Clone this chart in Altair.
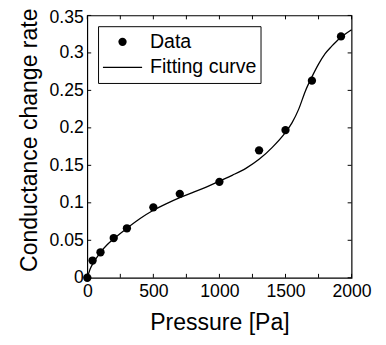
import altair as alt
import pandas as pd

# measured data
pressure = [0, 40, 100, 200, 300, 500, 700, 1000, 1300, 1500, 1700, 1920]
rate = [0.0, 0.023, 0.034, 0.053, 0.066, 0.094, 0.112, 0.128, 0.170, 0.197, 0.263, 0.322]

# fitting curve
fit_p = [0, 25, 50, 100, 150, 200, 300, 400, 500, 600, 700, 800, 900, 1000, 1100, 1200,
         1300, 1400, 1500, 1550, 1600, 1650, 1700, 1750, 1800, 1850, 1900, 1950, 2000]
fit_r = [0.0, 0.013, 0.021, 0.034, 0.044, 0.052, 0.066, 0.079, 0.090, 0.099, 0.107, 0.114,
         0.121, 0.129, 0.137, 0.146, 0.158, 0.174, 0.194, 0.207, 0.225, 0.249, 0.268, 0.285,
         0.299, 0.309, 0.318, 0.325, 0.331]

x_ticks = [0, 250, 500, 750, 1000, 1250, 1500, 1750, 2000]
x_labels = [0, 500, 1000, 1500, 2000]
y_ticks = [0, 0.05, 0.1, 0.15, 0.2, 0.25, 0.3, 0.35]

series_names = ["Data", "Fitting curve"]

FONT = "Liberation Sans"
W, H = 270, 268
TICK = 4
LINE_SYMBOL = "M-1,-0.033H1V0.033H-1Z"  # thin bar = line sample in legend

pts = pd.DataFrame({"p": pressure, "r": rate, "series": "Data"})
fit = pd.DataFrame({"p": fit_p, "r": fit_r})
xt = pd.DataFrame({"p": x_ticks})
yt = pd.DataFrame({"r": y_ticks})

xscale = alt.Scale(domain=[0, 2000], nice=False)
yscale = alt.Scale(domain=[0, 0.35], nice=False)

xaxis = alt.Axis(values=x_labels, format="d", ticks=False, grid=False,
                 domain=False, labelFlush=False, labelOverlap=False, labelPadding=5,
                 labelFontSize=18, labelFont=FONT, labelColor="black",
                 titleFontSize=23.5, titleFont=FONT, titleFontWeight="normal",
                 titleColor="black", titlePadding=11)
yaxis = alt.Axis(values=y_ticks, format=".2~f", ticks=False, grid=False, domain=False,
                 labelFlush=False, labelOverlap=False, labelPadding=4,
                 labelOffset=alt.condition("datum.value >= 0.34", alt.value(2), alt.value(0)),
                 labelFontSize=18, labelFont=FONT, labelColor="black",
                 titleFontSize=23.5, titleFont=FONT, titleFontWeight="normal",
                 titleColor="black", titlePadding=8, titleY=127)

X = alt.X("p:Q", scale=xscale, axis=xaxis, title="Pressure [Pa]")
Y = alt.Y("r:Q", scale=yscale, axis=yaxis, title="Conductance change rate")

line = alt.Chart(fit).mark_line(color="black", strokeWidth=1.3, interpolate="monotone").encode(
    x=X, y=Y)

legend = alt.Legend(title=None, orient="none", legendX=11, legendY=11,
                    strokeColor="black", fillColor="white", padding=4,
                    labelFontSize=20, labelFont=FONT, labelColor="black",
                    labelOffset=7, symbolFillColor="black",
                    clipHeight=24, rowPadding=2)

points = alt.Chart(pts).mark_point(filled=True, color="black", opacity=1).encode(
    x=X,
    y=Y,
    shape=alt.Shape("series:N", scale=alt.Scale(domain=series_names,
                                                range=["circle", LINE_SYMBOL]),
                    legend=legend),
    size=alt.Size("series:N", scale=alt.Scale(domain=series_names, range=[72, 1600]),
                  legend=legend),
)

bottom_ticks = alt.Chart(xt).mark_rule(color="black", strokeWidth=1).encode(
    x=X, y=alt.value(H), y2=alt.value(H - TICK))
top_ticks = alt.Chart(xt).mark_rule(color="black", strokeWidth=1).encode(
    x=X, y=alt.value(0), y2=alt.value(TICK))
left_ticks = alt.Chart(yt).mark_rule(color="black", strokeWidth=1).encode(
    y=Y, x=alt.value(0), x2=alt.value(TICK))
right_ticks = alt.Chart(yt).mark_rule(color="black", strokeWidth=1).encode(
    y=Y, x=alt.value(W), x2=alt.value(W - TICK))

chart = alt.layer(bottom_ticks, top_ticks, left_ticks, right_ticks, line, points).properties(
    width=W, height=H,
    autosize=alt.AutoSizeParams(type="none"),
    padding={"left": 81, "top": 4, "right": 27, "bottom": 61},
    background="white",
).configure_view(stroke="black", strokeWidth=1.2)

chart.save("out.html", embed_options={"renderer": "svg", "actions": False})
